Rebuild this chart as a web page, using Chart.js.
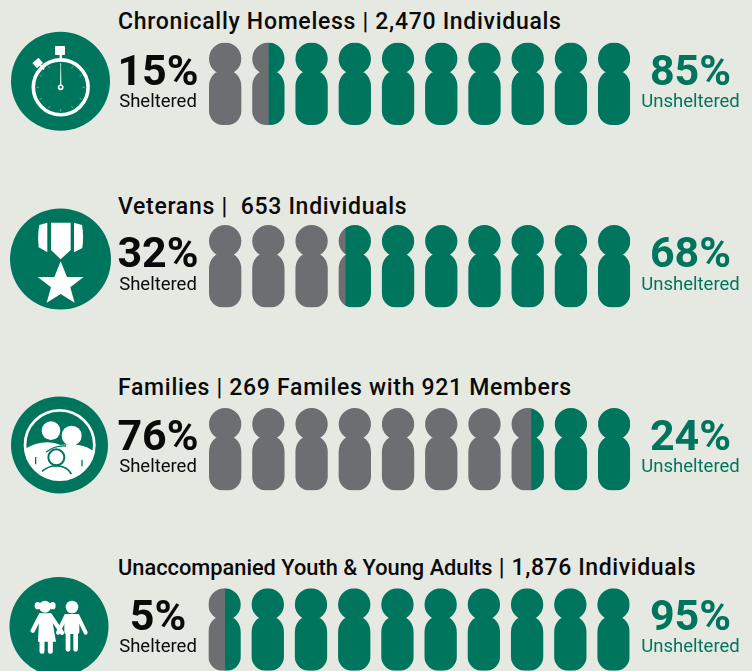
<!DOCTYPE html>
<html>
<head>
<meta charset="utf-8">
<script src="https://cdn.jsdelivr.net/npm/chart.js@4"></script>
<style>
html,body{margin:0;padding:0;background:#E6E9E1;width:752px;height:671px;overflow:hidden}
body{position:relative;font-family:Roboto,sans-serif}
canvas{position:absolute;left:0;display:block}
.t{position:absolute;white-space:pre;line-height:1;color:#0a0a0a}
.title{left:118px;font-weight:500;font-size:23px;letter-spacing:.7px}
.title .lead{font-size:21.8px;letter-spacing:0}
.title .rest{letter-spacing:.6px}
.pct{font-size:43px;font-weight:700;width:120px;text-align:center}
.lab{font-size:18.5px;font-weight:400;width:120px;text-align:center}
.left{left:98px}.right{left:630.5px;color:#00755E}
svg{position:absolute;left:0;top:0}
</style>
</head>
<body>
<svg width="752" height="671" viewBox="0 0 752 671">
  <!-- stopwatch -->
  <circle cx="60.5" cy="81.3" r="49.5" fill="#00755E"/>
  <g fill="#fff" stroke="none">
    <rect x="55" y="46" width="10" height="9" rx="0.8"/>
    <rect x="59.6" y="54" width="2.4" height="6"/>
    <rect x="33.7" y="59.5" width="8" height="7" transform="rotate(-40 37.7 63)"/>
    <rect x="41" y="64" width="2" height="6" transform="rotate(-40 42 67)"/>
    <path d="M60.1 86 L60.5 63 L61 63 L61.4 86 Z"/>
  </g>
  <circle cx="60.7" cy="87.3" r="27.4" fill="none" stroke="#fff" stroke-width="3.6"/>
  <circle cx="60.7" cy="87.3" r="2.1" fill="#00755E" stroke="#fff" stroke-width="1.6"/>
  <g stroke="#fff" stroke-width="0.5" opacity="0.8">
    <path d="M60.7 109v2.5M60.7 65.5v-2M82.6 87.3h2.4M36.6 87.3h2.4M49.8 68.4l-1.2-2M71.6 68.4l1.2-2M49.8 106.2l-1.2 2M71.6 106.2l1.2 2M41.8 76.4l-2-1.2M79.6 76.4l2-1.2M41.8 98.2l-2 1.2M79.6 98.2l2 1.2"/>
  </g>
  <!-- medal -->
  <circle cx="60.5" cy="259" r="50.5" fill="#00755E"/>
  <g fill="#fff" transform="translate(0 190) scale(.3333)">
    <path d="M153 98H212V180L182 208L153 180Z"/>
    <path d="M142 98V187L116 172Q112 135 118 105Z"/>
    <path d="M222 98V187L247 174Q252 135 246 105Z"/>
    <path d="M182 214L201 261L251 261L211 292L224 338L182 312L140 338L153 292L113 261L163 261Z"/>
  </g>
  <!-- family -->
  <circle cx="59.5" cy="445" r="48.5" fill="#00755E"/>
  <g transform="translate(10 395) scale(.3333)">
    <defs><clipPath id="fam"><circle cx="149" cy="150" r="106"/></clipPath></defs>
    <circle cx="149" cy="150" r="104" fill="none" stroke="#fff" stroke-width="8"/>
    <g clip-path="url(#fam)">
      <circle cx="123" cy="107" r="28" fill="#fff"/>
      <circle cx="185" cy="122" r="30" fill="#fff"/>
      <path d="M40 165Q75 142 112 142Q135 142 152 150Q180 146 205 150Q240 155 262 180V270H40Z" fill="#fff"/>
      <path d="M108 172Q135 150 168 153" fill="none" stroke="#00755E" stroke-width="4"/>
      <circle cx="139" cy="187" r="24" fill="none" stroke="#00755E" stroke-width="6"/>
      <path d="M96 229Q115 212 139 213Q170 212 184 237" fill="none" stroke="#00755E" stroke-width="5"/>
      <path d="M77 186V208M216 194V214" fill="none" stroke="#00755E" stroke-width="4"/>
    </g>
  </g>
  <!-- children -->
  <circle cx="59" cy="626.5" r="49.5" fill="#00755E"/>
  <g transform="translate(20 590) scale(.3333)" fill="#fff" stroke="#fff">
    <circle cx="75" cy="50" r="18" stroke="none"/>
    <ellipse cx="53" cy="47" rx="9" ry="11" stroke="none"/>
    <ellipse cx="98" cy="47" rx="9" ry="11" stroke="none"/>
    <path d="M58 70H93L108 155H54Z" stroke="none"/>
    <path d="M62 76L38 122M90 76L126 128" stroke-width="13" stroke-linecap="round" fill="none"/>
    <path d="M66 155V184M91 155V184" stroke-width="15" stroke-linecap="round" fill="none"/>
    <circle cx="156" cy="51" r="19" stroke="none"/>
    <rect x="133" y="72" width="45" height="60" rx="6" stroke="none"/>
    <path d="M138 78L114 128M173 78L197 128" stroke-width="12" stroke-linecap="round" fill="none"/>
    <path d="M144 125V178M167 125V178" stroke-width="14" stroke-linecap="round" fill="none"/>
  </g>
</svg>
<script>
const groupTitles = [
  "Chronically Homeless | 2,470 Individuals",
  "Veterans |  653 Individuals",
  "Families | 269 Familes with 921 Members",
  "Unaccompanied Youth & Young Adults | 1,876 Individuals"
];
const shelteredPct = [15, 32, 76, 5];
const unshelteredPct = [85, 68, 24, 95];
const shelteredLabel = "Sheltered";
const unshelteredLabel = "Unsheltered";

const GREY = "#6D6E71", GREEN = "#00755E";
const rowTop = [42.5, 225, 408, 588.3];
const rowLeft = [209, 209, 209, 208.4];
const rowText = [
  {title:29.5, pct:85, lab:107.5},
  {title:214, pct:267.3, lab:290.7},
  {title:395, pct:450, lab:472.4},
  {title:575.6, pct:630, lab:653, narrowLead:true}
];
const PEOPLE = 10, personH = 82.5, plotW = 421.3, personW = 32.3;

// A value axis on which each tenth of the range fills one person's width.
class PeopleScale extends Chart.LinearScale {
  static id = "people";
  static defaults = Chart.LinearScale.defaults;
  person() {
    const size = this.width * personW / plotW;
    return {size, pitch: (this.width - size) / (PEOPLE - 1)};
  }
  getPixelForValue(v) {
    const p = this.person(), unit = 100 / PEOPLE;
    const i = Math.min(PEOPLE - 1, Math.floor(v / unit));
    return this.left + i * p.pitch + (v - i * unit) / unit * p.size;
  }
}
Chart.register(PeopleScale);

const peopleClip = {
  id: "peopleClip",
  beforeDatasetsDraw(chart) {
    const {ctx, chartArea: a, scales: {x}} = chart;
    const {size, pitch} = x.person();
    const h = a.bottom - a.top, r = size / 2;
    ctx.save();
    ctx.beginPath();
    for (let i = 0; i < PEOPLE; i++) {
      const l = a.left + i * pitch;
      ctx.moveTo(l + size, a.top + r);
      ctx.arc(l + r, a.top + r, r, 0, Math.PI * 2);
      ctx.closePath();
      ctx.roundRect(l, a.top + h * 0.352, size, h * 0.648, [{x: 11, y: 15}, {x: 11, y: 15}, 14, 14]);
    }
    ctx.clip();
  },
  afterDatasetsDraw(chart) { chart.ctx.restore(); }
};

function addText(cls, text, base, size, narrowLead) {
  const d = document.createElement("div");
  d.className = "t " + cls;
  if (narrowLead) {
    const cut = text.indexOf(" | ");
    const lead = document.createElement("span");
    lead.className = "lead";
    lead.textContent = text.slice(0, cut);
    const rest = document.createElement("span");
    rest.className = "rest";
    rest.textContent = text.slice(cut);
    d.append(lead, rest);
  } else {
    d.textContent = text;
  }
  d.style.top = (base - 0.8415 * size) + "px";
  document.body.appendChild(d);
}

groupTitles.forEach((title, r) => {
  const cv = document.createElement("canvas");
  const top = Math.floor(rowTop[r]) - 3, H = 92;
  cv.width = 752; cv.height = H;
  cv.style.top = top + "px";
  document.body.appendChild(cv);
  const pt = rowTop[r] - top;
  new Chart(cv, {
    type: "bar",
    data: {
      labels: [title],
      datasets: [
        {label: shelteredLabel, data: [shelteredPct[r]], backgroundColor: GREY},
        {label: unshelteredLabel, data: [unshelteredPct[r]], backgroundColor: GREEN}
      ]
    },
    options: {
      indexAxis: "y",
      responsive: false,
      animation: false,
      layout: {padding: {left: rowLeft[r], right: 752 - rowLeft[r] - plotW, top: pt, bottom: H - pt - personH}},
      categoryPercentage: 1,
      barPercentage: 1,
      scales: {
        x: {type: "people", min: 0, max: 100, stacked: true, display: false},
        y: {stacked: true, display: false}
      },
      plugins: {legend: {display: false}, tooltip: {enabled: false}}
    },
    plugins: [peopleClip]
  });
  const b = rowText[r];
  addText("title", title, b.title, 23, b.narrowLead);
  addText("pct left", shelteredPct[r] + "%", b.pct, 43);
  addText("lab left", shelteredLabel, b.lab, 18.5);
  addText("pct right", unshelteredPct[r] + "%", b.pct, 43);
  addText("lab right", unshelteredLabel, b.lab, 18.5);
});
</script>
</body>
</html>
